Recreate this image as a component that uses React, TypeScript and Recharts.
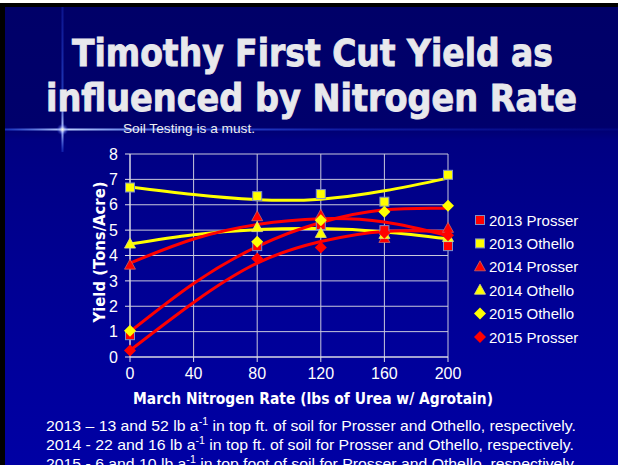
import React from 'react';
import { ComposedChart, Line, Scatter, XAxis, YAxis, CartesianGrid } from 'recharts';

const xTicks = [0, 40, 80, 120, 160, 200];
const yTicks = [0, 1, 2, 3, 4, 5, 6, 7, 8];
const rates = [0, 80, 120, 160, 200];
const trendRates = [0, 40, 80, 120, 160, 200];

const prosser2013 = [0.86, 4.37, 5.2, 5.0, 4.37];
const othello2013 = [6.68, 6.34, 6.42, 6.12, 7.18];
const prosser2014 = [3.62, 5.53, 5.59, 4.67, 5.07];
const othello2014 = [4.45, 5.1, 4.87, 4.83, 4.71];
const othello2015 = [1.03, 4.54, 5.39, 5.72, 5.96];
const prosser2015 = [0.26, 3.88, 4.32, 4.9, 4.8];

const trendOthello2013 = [6.7, 6.4, 6.2, 6.22, 6.55, 7.05];
const trendOthello2014 = [4.45, 4.82, 5.02, 5.06, 4.93, 4.66];
const trendProsser2014 = [3.7, 4.65, 5.22, 5.45, 5.32, 4.78];
const trendOthello2015 = [1.0, 2.9, 4.35, 5.3, 5.8, 5.86];
const trendProsser2015 = [0.26, 2.15, 3.7, 4.55, 4.95, 4.93];

const legendNames = ['2013 Prosser', '2013 Othello', '2014 Prosser', '2014 Othello', '2015 Othello', '2015 Prosser'];

const RED = '#ff0000';
const YELLOW = '#ffff00';

const toPts = (arr: number[]) => rates.map((x, i) => ({ x, y: arr[i] }));
const toTrend = (arr: number[]) => trendRates.map((x, i) => ({ x, y: arr[i] }));

type Kind = 'square' | 'triangle' | 'diamond';

function Marker({ kind, fill, cx, cy }: { kind: Kind; fill: string; cx: number; cy: number }) {
  if (kind === 'square') {
    return <rect x={cx - 4.5} y={cy - 4.5} width={9} height={9} fill={fill} stroke="#7f8fc8" strokeWidth={1} />;
  }
  if (kind === 'triangle') {
    return (
      <polygon
        points={`${cx},${cy - 6} ${cx + 5.5},${cy + 4} ${cx - 5.5},${cy + 4}`}
        fill={fill}
        stroke={fill === RED ? '#c86464' : '#e0e080'}
        strokeWidth={0.8}
      />
    );
  }
  return <polygon points={`${cx},${cy - 6} ${cx + 6},${cy} ${cx},${cy + 6} ${cx - 6},${cy}`} fill={fill} />;
}

const seriesDefs: { data: number[]; kind: Kind; fill: string }[] = [
  { data: prosser2013, kind: 'square', fill: RED },
  { data: othello2013, kind: 'square', fill: YELLOW },
  { data: prosser2014, kind: 'triangle', fill: RED },
  { data: othello2014, kind: 'triangle', fill: YELLOW },
  { data: othello2015, kind: 'diamond', fill: YELLOW },
  { data: prosser2015, kind: 'diamond', fill: RED },
];

const trendDefs = [
  { data: trendOthello2013, color: YELLOW },
  { data: trendOthello2014, color: YELLOW },
  { data: trendProsser2014, color: RED },
  { data: trendOthello2015, color: RED },
  { data: trendProsser2015, color: RED },
];

const footer = [
  { pre: '2013 \u2013 13 and 52 lb a', post: ' in top ft. of soil for Prosser and Othello, respectively.', len: 530 },
  { pre: '2014 - 22 and 16 lb a', post: ' in top ft. of soil for Prosser and Othello, respectively.', len: 528 },
  { pre: '2015 - 6 and 10 lb a', post: ' in top foot of soil for Prosser and Othello, respectively.', len: 531 },
];

export default function App() {
  return (
    <div style={{ position: 'absolute', left: 0, top: 0, width: 618, height: 465, background: '#ffffff', overflow: 'hidden' }}>
      <div style={{ position: 'absolute', left: 0, top: 3, width: 618, height: 462, background: '#000000' }} />
      <div
        style={{
          position: 'absolute',
          left: 5,
          top: 7,
          width: 613,
          height: 458,
          background:
            'linear-gradient(180deg, #000068 0%, #00006c 26%, #000082 29%, #00008c 45%, #00009a 75%, #0000a4 100%)',
        }}
      />
      <svg style={{ position: 'absolute', left: 0, top: 0 }} width={618} height={465}>
        <defs>
          <linearGradient id="hline" x1="0" x2="1" y1="0" y2="0">
            <stop offset="0" stopColor="#3060ff" stopOpacity="0.5" />
            <stop offset="0.095" stopColor="#c0d4ff" stopOpacity="1" />
            <stop offset="0.3" stopColor="#4070ff" stopOpacity="0.7" />
            <stop offset="0.55" stopColor="#3050ff" stopOpacity="0.35" />
            <stop offset="1" stopColor="#2040ff" stopOpacity="0.1" />
          </linearGradient>
          <linearGradient id="vline" x1="0" x2="0" y1="0" y2="1">
            <stop offset="0" stopColor="#3050ff" stopOpacity="0.25" />
            <stop offset="0.6" stopColor="#4070ff" stopOpacity="0.5" />
            <stop offset="0.85" stopColor="#c0d0ff" stopOpacity="1" />
            <stop offset="1" stopColor="#3060ff" stopOpacity="0.3" />
          </linearGradient>
          <radialGradient id="glow">
            <stop offset="0" stopColor="#ffffe0" stopOpacity="1" />
            <stop offset="0.5" stopColor="#a0b0ff" stopOpacity="0.5" />
            <stop offset="1" stopColor="#2040ff" stopOpacity="0" />
          </radialGradient>
        </defs>
        <rect x={5} y={128.5} width={613} height={2} fill="url(#hline)" />
        <rect x={61.5} y={7} width={2} height={145} fill="url(#vline)" />
        <circle cx={62.5} cy={129.5} r={6} fill="url(#glow)" />
      </svg>
      <div style={{ position: 'absolute', left: 0, top: 0 }}>
        <ComposedChart width={618} height={465} margin={{ top: 154, right: 170, bottom: 78, left: 90 }}>
          <CartesianGrid stroke="#c8c8dc" strokeWidth={1} horizontal vertical />
          <XAxis
            dataKey="x"
            type="number"
            domain={[0, 200]}
            ticks={xTicks}
            height={30}
            tickSize={5}
            tickMargin={6}
            stroke="#e0e0e8"
            tick={{ fill: '#ffffff', fontSize: 16, fontFamily: 'Liberation Sans' }}
            interval={0}
          />
          <YAxis
            type="number"
            domain={[0, 8]}
            ticks={yTicks}
            width={40}
            tickSize={5}
            tickMargin={7}
            stroke="#e0e0e8"
            tick={{ fill: '#ffffff', fontSize: 16, fontFamily: 'Liberation Sans' }}
            interval={0}
          />
          {trendDefs.map((t, i) => (
            <Line
              key={'t' + i}
              data={toTrend(t.data)}
              dataKey="y"
              type="natural"
              stroke={t.color}
              strokeWidth={3}
              dot={false}
              activeDot={false}
              isAnimationActive={false}
            />
          ))}
          {seriesDefs.map((s, i) => (
            <Scatter
              key={'s' + i}
              data={toPts(s.data)}
              dataKey="y"
              isAnimationActive={false}
              shape={(p: any) => <Marker kind={s.kind} fill={s.fill} cx={p.cx} cy={p.cy} />}
            />
          ))}
        </ComposedChart>
      </div>
      <svg style={{ position: 'absolute', left: 0, top: 0, pointerEvents: 'none' }} width={618} height={465}>
        <g fill="#e8e8ec" stroke="#e8e8ec" strokeWidth={0.9} fontFamily="DejaVu Sans" fontWeight="bold" fontSize={37}>
          <text x={72} y={66} textLength={481} lengthAdjust="spacingAndGlyphs">Timothy First Cut Yield as</text>
          <text x={46} y={111} textLength={531} lengthAdjust="spacingAndGlyphs">influenced by Nitrogen Rate</text>
        </g>
        <text x={123} y={133} fill="#f0f0f0" fontFamily="Liberation Sans" fontSize={13} textLength={132} lengthAdjust="spacingAndGlyphs">
          Soil Testing is a must.
        </text>
        <text
          x={0}
          y={0}
          transform="translate(105,252) rotate(-90)"
          textAnchor="middle"
          fill="#ffffff"
          fontFamily="DejaVu Sans"
          fontWeight="bold"
          fontSize={15}
          textLength={141}
          lengthAdjust="spacingAndGlyphs"
        >
          Yield (Tons/Acre)
        </text>
        <text
          x={133}
          y={404}
          fill="#ffffff"
          fontFamily="DejaVu Sans"
          fontWeight="bold"
          fontSize={15}
          textLength={360}
          lengthAdjust="spacingAndGlyphs"
        >
          March Nitrogen Rate (lbs of Urea w/ Agrotain)
        </text>
        {legendNames.map((name, i) => {
          const cy = 220 + i * 23.4;
          const s = seriesDefs[i];
          return (
            <g key={name}>
              <Marker kind={s.kind} fill={s.fill} cx={480} cy={cy} />
              <text x={489} y={cy + 5.5} fill="#ffffff" fontFamily="Liberation Sans" fontSize={15}>
                {name}
              </text>
            </g>
          );
        })}
        {footer.map((f, i) => (
          <text
            key={i}
            x={46}
            y={431 + i * 19}
            fill="#ffffff"
            fontFamily="Liberation Sans"
            fontSize={15}
            textLength={f.len}
            lengthAdjust="spacingAndGlyphs"
          >
            <tspan>{f.pre}</tspan>
            <tspan dy={-6} fontSize={10}>-1</tspan>
            <tspan dy={6}>{f.post}</tspan>
          </text>
        ))}
      </svg>
    </div>
  );
}
